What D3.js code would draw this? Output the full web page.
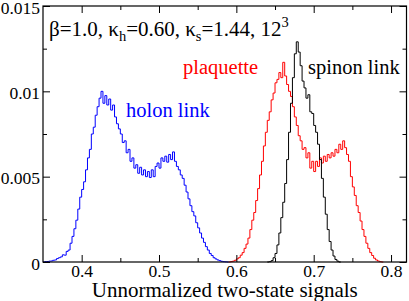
<!DOCTYPE html>
<html><head><meta charset="utf-8">
<script src="https://cdn.jsdelivr.net/npm/d3@7"></script>
<style>
svg text, svg tspan { font-family: 'Liberation Serif', 'Times New Roman', Times, serif !important; }
</style>
</head>
<body style="margin:0"><svg id="c" width="409" height="301" style="display:block"></svg>
<script>
// ---- data (histograms, bin width 0.0025, values in units of 1e-3) ----
const binWidth = 0.0025;
const holonStart = 0.350;
const holonValues = [0.00,0.02,0.03,0.05,0.06,0.10,0.12,0.20,0.25,0.30,0.42,0.40,0.62,0.70,1.10,1.50,1.95,2.45,3.10,3.80,
 4.25,4.70,5.40,6.10,6.60,7.50,7.90,8.60,9.10,9.60,10.0,9.30,9.75,9.20,9.55,8.90,9.20,8.50,8.10,7.80,
 7.50,7.00,7.10,6.40,6.60,5.90,6.10,5.50,5.70,5.20,5.55,5.10,5.40,5.00,5.30,4.95,5.40,5.00,5.60,5.80,
 5.50,6.10,5.90,6.20,5.85,6.30,6.00,6.45,5.90,5.60,5.40,5.10,4.90,4.50,4.10,3.70,3.30,2.95,2.70,2.30,
 2.00,1.70,1.40,1.15,0.90,0.70,0.50,0.38,0.25,0.18,0.12,0.08,0.04,0.02,0.01,0.00];
const plaquetteStart = 0.590;
const plaquetteValues = [0.00,0.02,0.05,0.10,0.18,0.25,0.40,0.55,0.80,1.05,1.40,1.90,2.45,2.90,3.60,4.30,5.10,5.90,6.80,7.60,
 8.30,8.80,9.50,9.90,10.50,10.70,11.10,10.80,11.70,10.90,10.40,10.00,9.70,9.10,8.50,8.00,7.40,7.10,6.60,6.70,
 6.10,6.40,5.50,5.90,5.30,5.90,5.60,6.10,5.80,6.20,5.90,6.30,6.10,6.40,6.20,6.60,6.40,6.90,6.60,7.10,
 6.70,6.30,5.90,5.00,4.40,3.90,3.30,2.90,2.40,1.90,1.50,1.10,0.80,0.55,0.38,0.22,0.12,0.06,0.02,0.00];
const spinonStart = 0.640;
const spinonValues = [0.00,0.02,0.08,0.25,0.50,1.00,1.70,2.60,3.50,4.60,6.00,7.60,9.30,10.80,12.20,12.90,12.30,11.50,10.60,10.20,
 9.60,9.80,8.80,8.70,8.00,7.60,6.90,6.00,4.90,3.80,2.80,1.90,1.20,0.70,0.35,0.15,0.05,0.00];

const xMajor = [0.4,0.5,0.6,0.7,0.8];
const xMinor = [0.45,0.55,0.65,0.75];
const xTickLabels = ["0.4","0.5","0.6","0.7","0.8"];
const yMajor = [0,0.005,0.01,0.015];
const yMinor = [0.0025,0.0075,0.0125];
const yTickLabels = ["0","0.005","0.01","0.015"];

const series = [
  {name:"holon link", start:holonStart, values:holonValues, color:"#0000ff"},
  {name:"plaquette", start:plaquetteStart, values:plaquetteValues, color:"#ff0000"},
  {name:"spinon link", start:spinonStart, values:spinonValues, color:"#000000"}
];

const svg = d3.select("#c");
const FAMILY = "Liberation Serif";
const FONT = "'Liberation Serif', 'Times New Roman', Times, serif";
function font(sel, size){
  return sel.attr("font-family", FAMILY).attr("font-size", size)
            .style("font-family", FONT, "important").style("font-size", size+"px", "important");
}

// ---- layout ----
const L=43, R=406.5, T=6, B=262;
const x = d3.scaleLinear().domain([0.35,0.82]).range([L,R]);
const y = d3.scaleLinear().domain([0,0.015]).range([B,T]);

// curves
const line = d3.line().x(d=>x(d[0])).y(d=>y(d[1])).curve(d3.curveStepAfter);
series.forEach(s=>{
  const pts = s.values.map((v,i)=>[s.start+i*binWidth, v*1e-3]);
  pts.push([s.start+s.values.length*binWidth, s.values[s.values.length-1]*1e-3]);
  svg.append("path").attr("d",line(pts)).attr("fill","none")
     .attr("stroke",s.color).attr("stroke-width",1);
});

// axes
const fmtX = (d)=>xTickLabels[xMajor.indexOf(d)];
const fmtY = (d)=>yTickLabels[yMajor.indexOf(d)];
function styleAxis(g){
  font(g, 17.5);
  g.select(".domain").remove();
  g.selectAll(".tick line").attr("stroke","#000").attr("stroke-width",1);
  font(g.selectAll("text"), 17.5).attr("fill","#000");
}
svg.append("g").attr("transform",`translate(0,${B})`).call(d3.axisBottom(x).tickValues(xMajor).tickSize(-7).tickPadding(3).tickFormat(fmtX)).call(styleAxis);
svg.append("g").attr("transform",`translate(0,${B})`).call(d3.axisBottom(x).tickValues(xMinor).tickSize(-4).tickFormat("")).call(styleAxis);
svg.append("g").attr("transform",`translate(0,${T})`).call(d3.axisTop(x).tickValues(xMajor).tickSize(-7).tickFormat("")).call(styleAxis);
svg.append("g").attr("transform",`translate(0,${T})`).call(d3.axisTop(x).tickValues(xMinor).tickSize(-4).tickFormat("")).call(styleAxis);
const yAx = svg.append("g").attr("transform",`translate(${L},0)`).call(d3.axisLeft(y).tickValues(yMajor).tickSize(-7).tickPadding(3).tickFormat(fmtY)).call(styleAxis);
yAx.selectAll("text").attr("dy","0.4em");
svg.append("g").attr("transform",`translate(${L},0)`).call(d3.axisLeft(y).tickValues(yMinor).tickSize(-4).tickFormat("")).call(styleAxis);
svg.append("g").attr("transform",`translate(${R},0)`).call(d3.axisRight(y).tickValues(yMajor).tickSize(-7).tickFormat("")).call(styleAxis);
svg.append("g").attr("transform",`translate(${R},0)`).call(d3.axisRight(y).tickValues(yMinor).tickSize(-4).tickFormat("")).call(styleAxis);

// frame
svg.append("rect").attr("x",L).attr("y",T).attr("width",R-L).attr("height",B-T)
   .attr("fill","none").attr("stroke","#000").attr("stroke-width",1.2);

function txt(xp, yp, size, color){
  return font(svg.append("text").attr("x",xp).attr("y",yp), size).attr("fill",color);
}
// axis title
txt((L+R)/2, 297, 21, "#000").attr("text-anchor","middle").text("Unnormalized two-state signals");

// annotation
const ann = txt(49, 36, 21, "#000");
font(ann.append("tspan"), 21).text("β=1.0, κ");
font(ann.append("tspan").attr("dy",5), 14.5).text("h");
font(ann.append("tspan").attr("dy",-5), 21).text("=0.60, κ");
font(ann.append("tspan").attr("dy",5), 14.5).text("s");
font(ann.append("tspan").attr("dy",-5), 21).text("=1.44, 12");
font(ann.append("tspan").attr("dy",-9), 14.5).text("3");

// series labels
txt(126, 117, 20.5, "#0000ff").text(series[0].name);
txt(183, 73.5, 20.5, "#ff0000").text(series[1].name);
txt(308, 73.5, 20.5, "#000").text(series[2].name);
</script></body></html>
